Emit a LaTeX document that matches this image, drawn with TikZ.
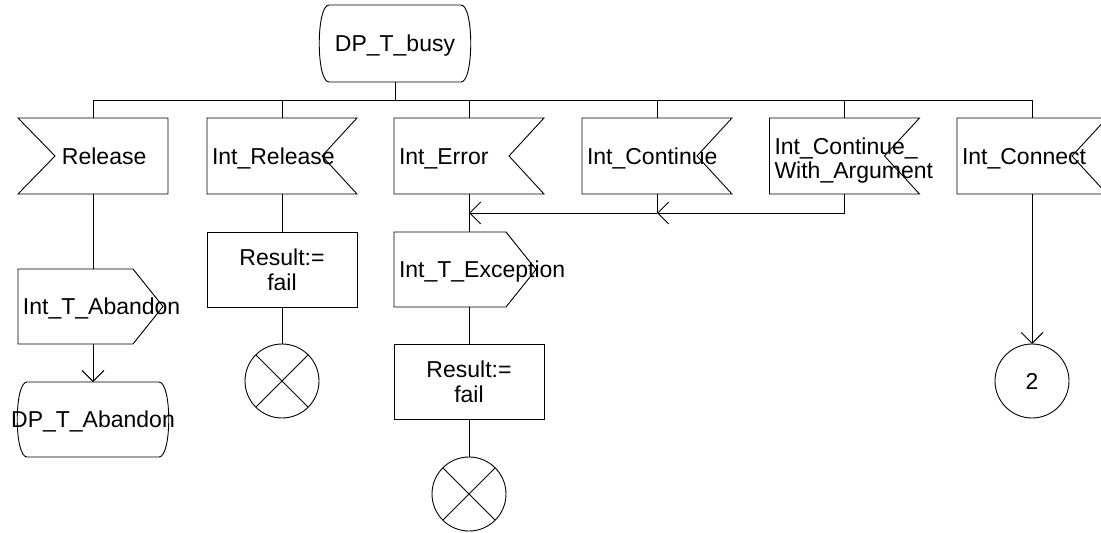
\documentclass[tikz,border=0pt]{standalone}
\usepackage{fontspec}
\setmainfont{Liberation Sans}
\usetikzlibrary{arrows.meta,calc}
\tikzset{
  base/.style={draw=none, inner sep=0pt, outer sep=0pt, font=\fontsize{23}{24.5}\selectfont},
  one/.style={text height=16.5pt, text depth=0pt},
  sig/.style={base, minimum width=150pt, minimum height=76pt},
  outbox/.style={base, minimum height=75pt},
  statebox/.style={base, minimum width=150pt, minimum height=76pt},
  task/.style={base, draw, line width=0.9pt, minimum width=150pt, minimum height=75pt, align=center, text depth=0pt},
  term/.style={base, draw, line width=0.9pt, circle, minimum size=74pt},
  stopx/.style={term, path picture={\draw[line width=0.9pt] (path picture bounding box.north west) -- (path picture bounding box.south east) (path picture bounding box.north east) -- (path picture bounding box.south west);}},
  wire/.style={line width=0.9pt},
  arr/.style={wire, -{Straight Barb[length=11pt,width=22pt,line width=0.9pt]}},
}
\newcommand\drawstate[1]{\draw[wire] ([xshift=9pt]#1.north west) -- ([xshift=-9pt]#1.north east) .. controls ([xshift=4pt]#1.north east) and ([xshift=4pt]#1.south east) .. ([xshift=-9pt]#1.south east) -- ([xshift=9pt]#1.south west) .. controls ([xshift=-4pt]#1.south west) and ([xshift=-4pt]#1.north west) .. cycle;}
\newcommand\inleft[1]{\draw[wire] (#1.north west) -- (#1.north east) -- (#1.south east) -- (#1.south west) -- ([xshift=37pt]#1.west) -- cycle;}
\newcommand\inright[1]{\draw[wire] (#1.north west) -- (#1.north east) -- ([xshift=-35pt]#1.east) -- (#1.south east) -- (#1.south west) -- cycle;}
\newcommand\outsig[1]{\draw[wire] (#1.north west) -- ([xshift=-30pt]#1.north east) -- (#1.east) -- ([xshift=-30pt]#1.south east) -- (#1.south west) -- cycle;}
\begin{document}
\begin{tikzpicture}[x=1pt,y=-1pt]
\clip (0,0) rectangle (1101,533);
% start state
\node[statebox, one, minimum height=77pt] (busy) at (395,43.5) {DP\_T\_busy};
\drawstate{busy}
% signals
\node[sig, one] (rel) at (93,156) {\makebox[140pt][l]{\hspace*{39pt}Release}};
\inleft{rel}
\node[sig, one] (irel) at (282,156) {\makebox[140pt][l]{Int\_Release}};
\inright{irel}
\node[sig, one] (err) at (469,156) {\makebox[140pt][l]{Int\_Error}};
\inright{err}
\node[sig, one] (cont) at (657,156) {\makebox[140pt][l]{Int\_Continue}};
\inright{cont}
\node[sig, align=left, text width=140pt, text depth=20pt] (cwa) at (844.5,156) {Int\_Continue\_\\\makebox[0pt][l]{With\_Argument}};
\inright{cwa}
\node[sig, one] (con) at (1032,156) {\makebox[140pt][l]{Int\_Connect}};
\inright{con}
% bus
\coordinate (busL) at (93,100);
\coordinate (busR) at (1032,100);
\draw[wire] (busy.south) -- (busy.south |- busL);
\draw[wire] (busL) -- (busR);
\foreach \n in {rel,irel,err,cont,cwa,con}{\draw[wire] (\n.north) -- (\n.north |- busL);}
% Release column
\node[outbox, one, minimum width=145pt] (tab) at (90.5,306.5) {\makebox[135pt][l]{Int\_T\_Abandon}};
\outsig{tab}
\node[statebox, one, minimum height=75pt] (dpa) at (93,419.5) {\makebox[0pt]{DP\_T\_Abandon}};
\drawstate{dpa}
\draw[wire] (rel.south) -- (rel.south |- tab.north);
\draw[arr] (rel.south |- tab.south) -- (dpa.north);
% Int_Release column
\node[task] (res1) at (282,269.5) {Result:=\\fail};
\node[stopx] (x1) at (282,381) {};
\draw[wire] (irel.south) -- (res1.north);
\draw[wire] (res1.south) -- (x1.north);
% Int_Error column
\node[outbox, one, minimum width=142pt] (exc) at (465,269.5) {\makebox[132pt][l]{Int\_T\_Exception}};
\outsig{exc}
\node[task] (res2) at (469,381.5) {Result:=\\fail};
\node[stopx] (x2) at (469,494) {};
\coordinate (mj) at (469,213);
\coordinate (cj) at (657,213);
\draw[wire] (err.south) -- (err.south |- exc.north);
\draw[wire] (err.south |- exc.south) -- (res2.north);
\draw[wire] (res2.south) -- (x2.north);
\draw[arr] (cwa.south) |- (cj);
\draw[wire] (cont.south) -- (cj);
\draw[arr] (cj) -- (mj);
% Int_Connect column
\node[term, one] (c2) at (1032,381) {2};
\draw[arr] (con.south) -- (c2.north);
\end{tikzpicture}
\end{document}
